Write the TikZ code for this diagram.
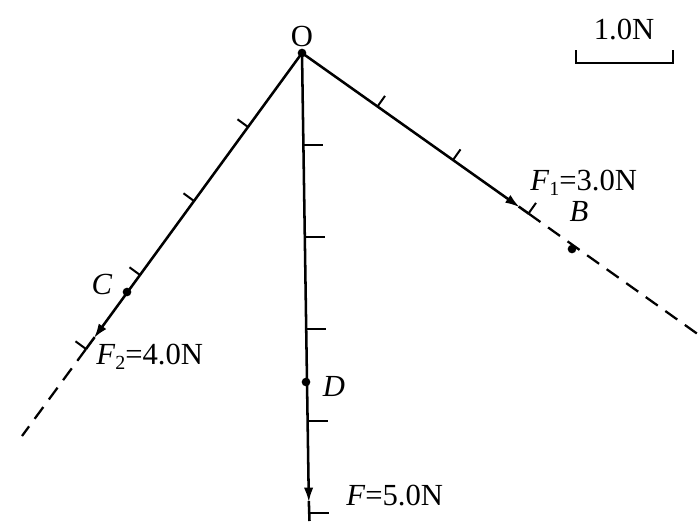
\documentclass[tikz,border=0pt]{standalone}
\usepackage{fontspec}
\setmainfont{Liberation Serif}
\usetikzlibrary{arrows.meta,calc}
\begin{document}
\begin{tikzpicture}[x=0.75pt,y=-0.75pt,
  solid line/.style={line width=1.9pt},
  force/.style={line width=1.9pt,-{Latex[length=11pt,width=7pt]}},
  ext/.style={line width=1.7pt,dash pattern=on 11pt off 7pt},
  tickmark/.style={line width=1.5pt},
  dotpt/.style={circle,fill,inner sep=0pt,minimum size=6.5pt},
  lbl/.style={font=\fontsize{23}{26}\selectfont, inner sep=0pt}]
\useasboundingbox (0,0) rectangle (699,521);
\newcommand{\subs}[1]{\raisebox{-0.35ex}{\fontsize{15}{15}\selectfont #1}}

\coordinate (O) at (302,53);
\coordinate (E1) at (528.5,213.5);
\coordinate (X1) at (699,335);
\coordinate (E2) at (86,349);
\coordinate (X2) at (22,436);
\coordinate (E3) at (309,513);
\coordinate (X3) at (309.5,521);

% F1
\draw[force] (O) -- ($(E1)!8pt!(O)$);
\draw[solid line] ($(E1)!9pt!(O)$) -- (E1);
\draw[ext] (E1) -- (X1);
\foreach \k in {1,2,3} \draw[tickmark] ($(O)!\k/3!(E1)$) -- ++(7.5,-10.6);

% F2
\draw[force] (O) -- ($(E2)!10pt!(O)$);
\draw[solid line] ($(E2)!11pt!(O)$) -- (E2);
\draw[ext] (E2) -- (X2);
\foreach \k in {1,2,3,4} \draw[tickmark] ($(O)!\k/4!(E2)$) -- ++(-10.5,-7.7);

% F
\draw[force] (O) -- ($(E3)!8pt!(O)$);
\draw[solid line] ($(E3)!9pt!(O)$) -- (X3);
\foreach \k in {1,2,3,4,5} \draw[tickmark] ($(O)!\k/5!(E3)$) -- ++(20,0);

% points
\node[dotpt] (Odot) at (O) {};
\node[dotpt] (Bdot) at (572,249) {};
\node[dotpt] (Cdot) at (127,292) {};
\node[dotpt] (Ddot) at (306,382) {};

% labels
\node[lbl] (Olab) at (302,36) {O};
\node[lbl] (Blab) at (579,212) {\textit{B}};
\node[lbl] (Clab) at (102,284) {\textit{C}};
\node[lbl] (Dlab) at (334,386) {\textit{D}};
\node[lbl,anchor=west] (F1lab) at (530,183) {\textit{F}\subs{1}=3.0N};
\node[lbl,anchor=west] (F2lab) at (96,357) {\textit{F}\subs{2}=4.0N};
\node[lbl,anchor=west] (Flab) at (346,496) {\textit{F}=5.0N};

% scale
\node[lbl] (scalelab) at (624,30) {1.0N};
\draw[line width=1.7pt] (576,50) -- (576,63) -- (673,63) -- (673,50);
\end{tikzpicture}
\end{document}
